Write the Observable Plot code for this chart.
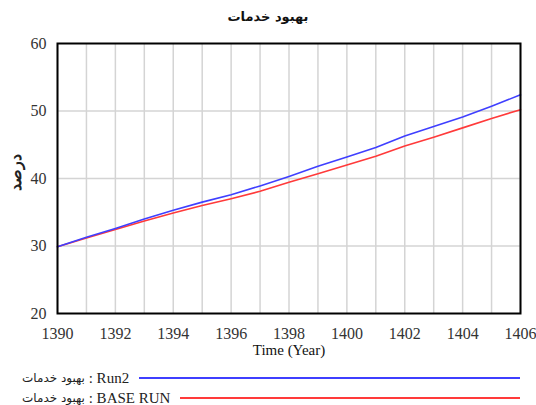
<!DOCTYPE html>
<html>
<head>
<meta charset="utf-8">
<script src="https://cdn.jsdelivr.net/npm/d3@7"></script>
<script src="https://cdn.jsdelivr.net/npm/@observablehq/plot@0.6"></script>
<style>
  html, body { margin: 0; padding: 0; background: #fff; width: 536px; height: 405px; overflow: hidden; }
  #title { height: 21px; padding-top: 9px; line-height: 20px; text-align: center; font: bold 13px "DejaVu Sans", "Liberation Serif", serif; color: #111; }
  #chart { height: 335px; }
  .row { display: flex; align-items: center; height: 20px; padding: 0 16px 0 22px; font: 15px "Liberation Serif", "DejaVu Sans", serif; color: #222; }
  .row .ar { font: 12px "DejaVu Sans", sans-serif; }
  .row .sw { flex: 1; height: 2px; margin-left: 10px; }
</style>
</head>
<body>
<div id="title"></div>
<div id="chart"></div>
<div style="height:3px"></div>
<div id="legend"></div>
<script>
const title = "بهبود خدمات";
const yLabel = "درصد";
const xLabel = "Time (Year)";
const years = [1390, 1391, 1392, 1393, 1394, 1395, 1396, 1397, 1398, 1399, 1400, 1401, 1402, 1403, 1404, 1405, 1406];
const run2 = [29.9, 31.3, 32.6, 34.0, 35.3, 36.5, 37.6, 38.9, 40.3, 41.8, 43.2, 44.6, 46.3, 47.7, 49.1, 50.7, 52.4];
const baseRun = [29.9, 31.2, 32.45, 33.7, 34.9, 36.0, 37.0, 38.1, 39.45, 40.7, 42.0, 43.3, 44.8, 46.1, 47.5, 48.9, 50.2];
const seriesVar = "بهبود خدمات";
const seriesRuns = ["Run2", "BASE RUN"];
const seriesColors = ["#3f3fff", "#ff3a3a"];
const xTicks = [1390, 1392, 1394, 1396, 1398, 1400, 1402, 1404, 1406];
const yTicks = [20, 30, 40, 50, 60];
const yGrid = [30, 40, 50];

document.getElementById("title").textContent = title;

const dataRun2 = years.map((y, i) => ({year: y, value: run2[i]}));
const dataBase = years.map((y, i) => ({year: y, value: baseRun[i]}));

const plot = Plot.plot({
  width: 536,
  height: 335,
  marginTop: 13,
  marginBottom: 52,
  marginLeft: 57,
  marginRight: 16,
  style: {fontFamily: "'Liberation Serif', serif", fontSize: "16px", color: "#333", background: "#fff"},
  x: {domain: [1390, 1406]},
  y: {domain: [20, 60]},
  marks: [
    Plot.gridX(years, {stroke: "#d4d4d4", strokeOpacity: 1, strokeWidth: 1.5}),
    Plot.gridY(yGrid, {stroke: "#d4d4d4", strokeOpacity: 1, strokeWidth: 1.5}),
    Plot.axisX(xTicks, {tickFormat: "d", tickSize: 0, tickPadding: 14, label: null}),
    Plot.axisY(yTicks, {tickFormat: "d", tickSize: 0, tickPadding: 11, label: null}),
    Plot.line(dataBase, {x: "year", y: "value", stroke: seriesColors[1], strokeWidth: 1.6}),
    Plot.line(dataRun2, {x: "year", y: "value", stroke: seriesColors[0], strokeWidth: 1.6}),
    Plot.frame({stroke: "#000", strokeWidth: 2}),
    Plot.text([xLabel], {frameAnchor: "bottom", dy: 41, fontSize: 15, fill: "#111"}),
    Plot.text([yLabel], {frameAnchor: "left", dx: -42, dy: 12, rotate: -90, fontSize: 16, fontWeight: "bold", fill: "#222"})
  ]
});
document.getElementById("chart").appendChild(plot);

const legend = document.getElementById("legend");
seriesRuns.forEach((run, i) => {
  const row = document.createElement("div");
  row.className = "row";
  const a = document.createElement("span");
  a.className = "ar";
  a.textContent = seriesVar;
  const t = document.createElement("span");
  t.textContent = "\u00a0: " + run;
  const sw = document.createElement("div");
  sw.className = "sw";
  sw.style.background = seriesColors[i];
  row.appendChild(a);
  row.appendChild(t);
  row.appendChild(sw);
  legend.appendChild(row);
});
</script>
</body>
</html>
